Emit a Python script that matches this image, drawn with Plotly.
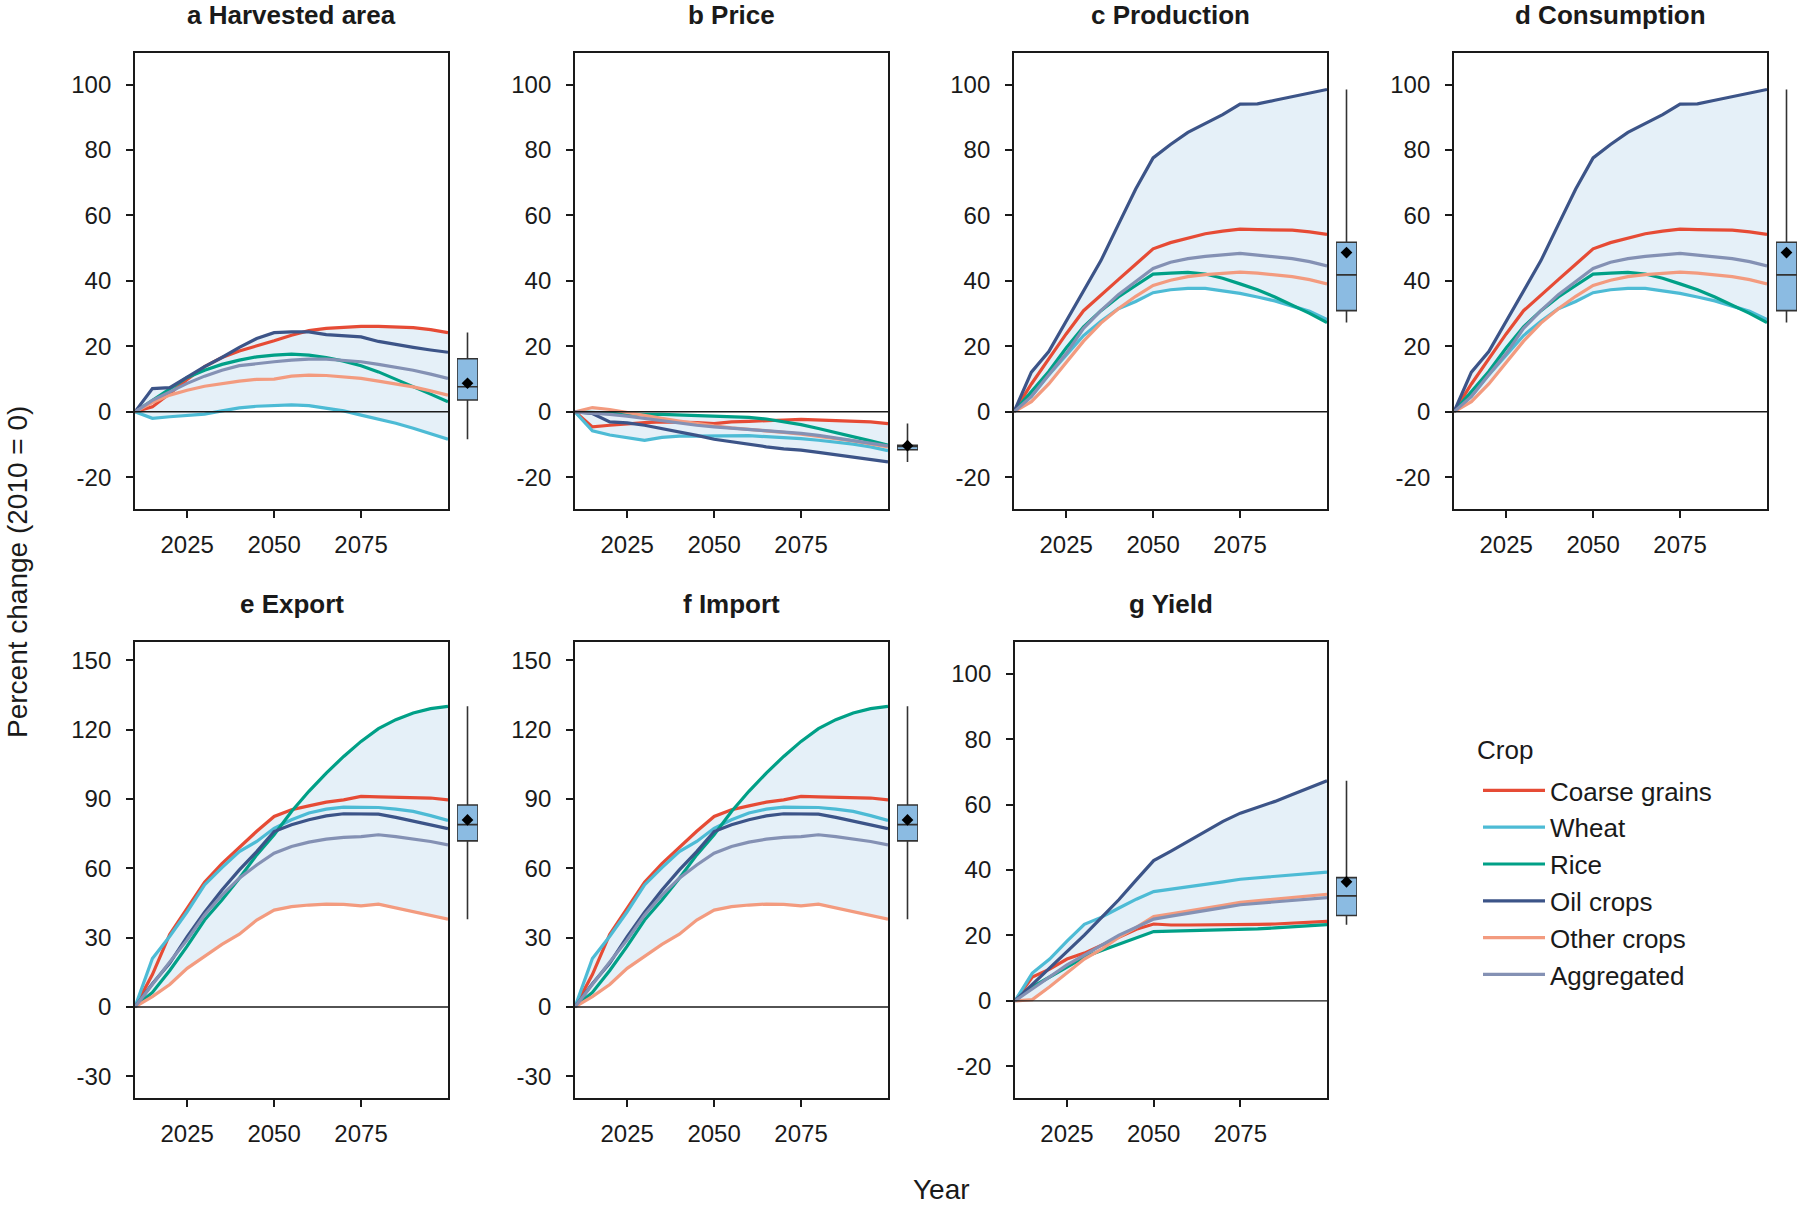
import numpy as np
import plotly.graph_objects as go

# ---------------- data ----------------
YEARS = list(range(2010, 2101, 5))
CROPS = ["Coarse grains", "Wheat", "Rice", "Oil crops", "Other crops", "Aggregated"]
COLORS = ["#E64B35", "#4DBBD5", "#00A087", "#3C5488", "#F39B7F", "#8491B4"]

harvested_area = {
    "Coarse grains": [0, 1.5, 5.6, 9.9, 13.8, 16.6, 18.6, 20.1, 21.7, 23.4, 24.8, 25.5, 25.9, 26.1, 26.1, 26.0, 25.7, 25.1, 24.2],
    "Wheat":         [0, -2.0, -1.5, -1.0, -0.7, 0.3, 1.2, 1.7, 2.0, 2.1, 1.9, 1.2, 0.3, -1.0, -2.2, -3.5, -5.0, -6.6, -8.4],
    "Rice":          [0, 3.5, 7.1, 10.5, 12.7, 14.5, 15.8, 16.8, 17.3, 17.6, 17.3, 16.6, 15.5, 14.1, 12.2, 10.0, 7.6, 5.4, 3.1],
    "Oil crops":     [0, 7.1, 7.4, 10.5, 13.8, 16.6, 19.7, 22.4, 24.2, 24.4, 24.4, 23.6, 23.2, 22.9, 21.5, 20.5, 19.7, 18.9, 18.2],
    "Other crops":   [0, 2.8, 5.1, 6.6, 7.8, 8.7, 9.4, 9.9, 10.0, 10.9, 11.2, 11.1, 10.7, 10.2, 9.4, 8.5, 7.6, 6.4, 5.1],
    "Aggregated":    [0, 3.5, 6.1, 8.7, 10.9, 12.7, 14.1, 14.8, 15.3, 15.8, 16.1, 16.1, 15.8, 15.3, 14.5, 13.6, 12.7, 11.5, 10.2],
}
price = {
    "Coarse grains": [0, -4.6, -4.1, -3.6, -3.3, -3.1, -3.1, -3.3, -3.6, -3.1, -2.9, -2.8, -2.5, -2.3, -2.5, -2.7, -2.8, -3.1, -3.6],
    "Wheat":         [0, -5.8, -7.1, -7.8, -8.7, -7.8, -7.4, -7.4, -7.3, -7.3, -7.3, -7.6, -7.8, -8.2, -8.7, -9.2, -9.9, -10.7, -11.9],
    "Rice":          [0, -0.2, -0.5, -0.8, -0.8, -0.8, -1.0, -1.2, -1.5, -1.5, -1.7, -2.2, -3.1, -3.9, -5.1, -6.3, -7.6, -8.9, -10.2],
    "Oil crops":     [0, -0.5, -3.1, -3.4, -4.1, -5.1, -6.1, -7.2, -8.4, -9.2, -9.9, -10.7, -11.3, -11.7, -12.4, -13.1, -13.8, -14.5, -15.3],
    "Other crops":   [0, 1.3, 0.7, -0.2, -1.3, -2.0, -2.8, -3.6, -4.3, -4.9, -5.3, -5.8, -6.3, -6.8, -7.4, -8.2, -8.9, -9.7, -10.7],
    "Aggregated":    [0, -0.3, -0.8, -1.3, -2.0, -2.8, -3.4, -4.1, -4.6, -5.0, -5.3, -5.6, -6.1, -6.6, -7.2, -8.0, -8.7, -9.5, -10.4],
}
production = {
    "Coarse grains": [0, 8.5, 16.2, 23.8, 30.9, 35.8, 40.4, 45.1, 49.8, 51.7, 53.1, 54.4, 55.2, 55.8, 55.7, 55.6, 55.5, 55.0, 54.2],
    "Wheat":         [0, 4.7, 11.3, 17.3, 23.3, 27.7, 31.5, 33.7, 36.4, 37.3, 37.7, 37.7, 36.9, 36.2, 35.1, 33.9, 32.3, 30.7, 28.2],
    "Rice":          [0, 6.3, 12.3, 19.5, 26.0, 30.9, 35.1, 38.6, 42.1, 42.4, 42.6, 42.1, 40.8, 39.1, 37.3, 35.1, 32.6, 30.1, 27.3],
    "Oil crops":     [0, 12.1, 18.4, 27.7, 36.9, 46.2, 57.2, 68.1, 77.6, 81.7, 85.4, 88.0, 90.8, 94.0, 94.1, 95.2, 96.3, 97.3, 98.5],
    "Other crops":   [0, 3.1, 8.5, 15.1, 21.6, 27.1, 31.5, 35.3, 38.6, 40.2, 41.3, 41.9, 42.3, 42.7, 42.4, 41.9, 41.3, 40.4, 39.1],
    "Aggregated":    [0, 4.7, 11.3, 17.8, 25.5, 30.9, 35.8, 39.7, 43.8, 45.7, 46.8, 47.5, 47.9, 48.4, 47.9, 47.3, 46.8, 45.9, 44.6],
}
consumption = {
    "Coarse grains": [0, 8.5, 16.2, 23.8, 30.9, 35.8, 40.4, 45.1, 49.8, 51.7, 53.1, 54.4, 55.2, 55.8, 55.7, 55.6, 55.5, 55.0, 54.2],
    "Wheat":         [0, 4.7, 11.3, 17.3, 23.3, 27.7, 31.5, 33.7, 36.4, 37.3, 37.7, 37.7, 36.9, 36.2, 35.1, 33.9, 32.3, 30.7, 28.2],
    "Rice":          [0, 6.3, 12.3, 19.5, 26.0, 30.9, 35.1, 38.6, 42.1, 42.4, 42.6, 42.1, 40.8, 39.1, 37.3, 35.1, 32.6, 30.1, 27.3],
    "Oil crops":     [0, 12.1, 18.4, 27.7, 36.9, 46.2, 57.2, 68.1, 77.6, 81.7, 85.4, 88.0, 90.8, 94.0, 94.1, 95.2, 96.3, 97.3, 98.5],
    "Other crops":   [0, 3.1, 8.5, 15.1, 21.6, 27.1, 31.5, 35.3, 38.6, 40.2, 41.3, 41.9, 42.3, 42.7, 42.4, 41.9, 41.3, 40.4, 39.1],
    "Aggregated":    [0, 4.7, 11.3, 17.8, 25.5, 30.9, 35.8, 39.7, 43.8, 45.7, 46.8, 47.5, 47.9, 48.4, 47.9, 47.3, 46.8, 45.9, 44.6],
}
export = {
    "Coarse grains": [0, 14.0, 31.5, 43.0, 54.0, 62.0, 69.0, 76.0, 82.4, 85.3, 87.0, 88.6, 89.6, 91.1, 90.9, 90.8, 90.8, 90.4, 89.6],
    "Wheat":         [0, 21.0, 30.6, 41.2, 52.8, 60.3, 67.2, 71.6, 77.3, 81.0, 83.9, 85.6, 86.5, 86.5, 86.3, 85.6, 84.6, 82.8, 80.7],
    "Rice":          [0, 6.3, 15.8, 26.3, 37.6, 46.3, 55.7, 65.8, 74.5, 84.6, 93.3, 101.2, 108.4, 114.9, 120.4, 124.3, 127.2, 129.1, 130.1],
    "Oil crops":     [0, 10.0, 19.0, 30.4, 41.0, 50.6, 59.3, 67.2, 75.9, 78.8, 81.0, 82.7, 83.6, 83.6, 83.4, 82.0, 80.5, 78.8, 77.1],
    "Other crops":   [0, 4.5, 9.7, 16.7, 21.9, 27.1, 31.5, 37.6, 41.9, 43.4, 44.1, 44.5, 44.4, 43.7, 44.5, 42.9, 41.2, 39.8, 38.0],
    "Aggregated":    [0, 10.0, 19.5, 29.0, 39.8, 48.4, 55.7, 61.4, 66.5, 69.4, 71.3, 72.6, 73.4, 73.7, 74.5, 73.7, 72.7, 71.6, 70.1],
}
imports = {
    "Coarse grains": [0, 14.0, 31.5, 43.0, 54.0, 62.0, 69.0, 76.0, 82.4, 85.3, 87.0, 88.6, 89.6, 91.1, 90.9, 90.8, 90.8, 90.4, 89.6],
    "Wheat":         [0, 21.0, 30.6, 41.2, 52.8, 60.3, 67.2, 71.6, 77.3, 81.0, 83.9, 85.6, 86.5, 86.5, 86.3, 85.6, 84.6, 82.8, 80.7],
    "Rice":          [0, 6.3, 15.8, 26.3, 37.6, 46.3, 55.7, 65.8, 74.5, 84.6, 93.3, 101.2, 108.4, 114.9, 120.4, 124.3, 127.2, 129.1, 130.1],
    "Oil crops":     [0, 10.0, 19.0, 30.4, 41.0, 50.6, 59.3, 67.2, 75.9, 78.8, 81.0, 82.7, 83.6, 83.6, 83.4, 82.0, 80.5, 78.8, 77.1],
    "Other crops":   [0, 4.5, 9.7, 16.7, 21.9, 27.1, 31.5, 37.6, 41.9, 43.4, 44.1, 44.5, 44.4, 43.7, 44.5, 42.9, 41.2, 39.8, 38.0],
    "Aggregated":    [0, 10.0, 19.5, 29.0, 39.8, 48.4, 55.7, 61.4, 66.5, 69.4, 71.3, 72.6, 73.4, 73.7, 74.5, 73.7, 72.7, 71.6, 70.1],
}
crop_yield = {
    "Coarse grains": [0, 7.3, 9.7, 12.8, 14.6, 17.1, 19.5, 21.9, 23.5, 23.2, 23.2, 23.2, 23.2, 23.3, 23.4, 23.5, 23.7, 24.0, 24.3],
    "Wheat":         [0, 8.5, 12.8, 18.3, 23.4, 25.6, 28.4, 31.1, 33.4, 34.1, 34.9, 35.6, 36.4, 37.2, 37.6, 38.1, 38.5, 39.0, 39.4],
    "Rice":          [0, 4.3, 7.3, 10.4, 13.4, 15.4, 17.4, 19.3, 21.2, 21.3, 21.4, 21.5, 21.6, 21.7, 22.0, 22.3, 22.6, 22.9, 23.3],
    "Oil crops":     [0, 5.0, 10.0, 15.0, 20.1, 25.5, 31.0, 37.0, 42.9, 45.8, 48.9, 51.9, 54.9, 57.4, 59.2, 61.0, 63.1, 65.1, 67.3],
    "Other crops":   [0, 0.4, 4.3, 8.5, 12.8, 15.8, 19.5, 22.5, 25.8, 26.6, 27.4, 28.3, 29.2, 30.1, 30.6, 31.1, 31.6, 32.1, 32.6],
    "Aggregated":    [0, 3.7, 7.3, 11.0, 14.0, 17.1, 20.1, 22.5, 25.0, 25.9, 26.7, 27.6, 28.5, 29.4, 29.8, 30.3, 30.7, 31.2, 31.6],
}

PANEL_TITLES = ["a Harvested area", "b Price", "c Production", "d Consumption",
                "e Export", "f Import", "g Yield"]
PANEL_DATA = [harvested_area, price, production, consumption, export, imports, crop_yield]
YTICKS_SMALL = [-20, 0, 20, 40, 60, 80, 100]
YTICKS_LARGE = [-30, 0, 30, 60, 90, 120, 150]
XTICKS = [2025, 2050, 2075]

# ---------------- layout geometry (pixels) ----------------
W, H = 1800, 1205
FONT = "Liberation Sans, Arial, sans-serif"
INK = "#1a1a1a"
BAND = "#E5F0F8"
BOXFILL = "#8BBBE2"
ROWS_PX = [(52.5, 509.0), (641.8, 1098.0)]
PANEL_X_PX = [(135, 448), (575, 888), (1014, 1327), (1454, 1767),
              (135, 448), (575, 888), (1015, 1327)]
PANEL_ROW = [0, 0, 0, 0, 1, 1, 1]
PANEL_YRANGE = [[-29.7, 109.8]] * 4 + [[-39.4, 158.0]] * 2 + [[-29.7, 109.8]]
PANEL_YTICKS = [YTICKS_SMALL] * 4 + [YTICKS_LARGE] * 2 + [YTICKS_SMALL]


def fx(px):
    return px / W


def fy(py):
    return 1 - py / H


def ax_name(letter, n):
    return letter if n == 1 else f"{letter}{n}"


def ax_key(letter, n):
    return f"{letter}axis" if n == 1 else f"{letter}axis{n}"


fig = go.Figure()
layout = dict()
annotations = []
shapes = []

for i, (title, data) in enumerate(zip(PANEL_TITLES, PANEL_DATA)):
    na, nb, ny = 2 * i + 1, 2 * i + 2, i + 1
    xa, xb, ya = ax_name("x", na), ax_name("x", nb), ax_name("y", ny)
    x0, x1 = PANEL_X_PX[i]
    r0, r1 = ROWS_PX[PANEL_ROW[i]]

    arr = np.array([data[c] for c in CROPS], dtype=float)
    lo = arr.min(axis=0)
    hi = arr.max(axis=0)

    # shaded range band
    fig.add_trace(go.Scatter(x=YEARS, y=hi, mode="lines", line=dict(width=0, color=BAND),
                             xaxis=xa, yaxis=ya, showlegend=False, hoverinfo="skip"))
    fig.add_trace(go.Scatter(x=YEARS, y=lo, mode="lines", line=dict(width=0, color=BAND),
                             fill="tonexty", fillcolor=BAND,
                             xaxis=xa, yaxis=ya, showlegend=False, hoverinfo="skip"))
    # crop lines
    for c, col in zip(CROPS, COLORS):
        fig.add_trace(go.Scatter(x=YEARS, y=data[c], mode="lines", name=c,
                                 line=dict(color=col, width=3.2),
                                 legendgroup=c, showlegend=(i == 0),
                                 xaxis=xa, yaxis=ya))

    # box plot of end-of-century values across crops
    end = arr[:, -1]
    q1, med, q3 = np.percentile(end, [25, 50, 75])
    fig.add_trace(go.Box(x=[0], q1=[q1], median=[med], q3=[q3],
                         lowerfence=[end.min()], upperfence=[end.max()],
                         width=1, whiskerwidth=0, fillcolor=BOXFILL,
                         line=dict(color="#333333", width=1.6),
                         xaxis=xb, yaxis=ya, showlegend=False, hoverinfo="skip"))
    fig.add_trace(go.Scatter(x=[0], y=[end.mean()], mode="markers",
                             marker=dict(symbol="diamond", size=9, color="black"),
                             xaxis=xb, yaxis=ya, showlegend=False, hoverinfo="skip"))

    layout[ax_key("x", na)] = dict(
        domain=[fx(x0), fx(x1)], anchor=ya, range=[2010, 2100],
        tickvals=XTICKS, ticktext=[str(t) for t in XTICKS],
        ticks="outside", ticklen=7, tickwidth=1.5, tickcolor=INK,
        showline=True, linecolor=INK, linewidth=1.8, mirror=True,
        showgrid=False, zeroline=False, ticklabelstandoff=6,
        tickfont=dict(size=24, color=INK, family=FONT))
    layout[ax_key("x", nb)] = dict(
        domain=[fx(x1 + 9), fx(x1 + 30)], anchor=ya, range=[-0.5, 0.5],
        visible=False, showgrid=False, zeroline=False)
    layout[ax_key("y", ny)] = dict(
        domain=[fy(r1), fy(r0)], anchor=xa, range=PANEL_YRANGE[i],
        tickvals=PANEL_YTICKS[i], ticktext=[str(t) for t in PANEL_YTICKS[i]],
        ticks="outside", ticklen=7, tickwidth=1.5, tickcolor=INK,
        showline=True, linecolor=INK, linewidth=1.8, mirror=True,
        showgrid=False, zeroline=False, ticklabelstandoff=10,
        tickfont=dict(size=24, color=INK, family=FONT))

    # zero reference line
    shapes.append(dict(type="line", xref=f"{xa} domain", yref=ya, x0=0, x1=1, y0=0, y1=0,
                       line=dict(color=INK, width=1.4), layer="above"))

    # panel title
    annotations.append(dict(text=f"<b>{title}</b>", xref="paper", yref="paper",
                            x=fx((x0 + x1) / 2), y=fy(r0 - 37.5), xanchor="center", yanchor="middle",
                            showarrow=False, font=dict(size=26, color=INK, family=FONT)))

annotations.append(dict(text="Percent change (2010 = 0)", xref="paper", yref="paper",
                        x=fx(17), y=fy(572), textangle=-90, xanchor="center", yanchor="middle",
                        showarrow=False, font=dict(size=28, color=INK, family=FONT)))
annotations.append(dict(text="Year", xref="paper", yref="paper",
                        x=fx(941), y=fy(1189), xanchor="center", yanchor="middle",
                        showarrow=False, font=dict(size=28, color=INK, family=FONT)))
annotations.append(dict(text="Crop", xref="paper", yref="paper",
                        x=fx(1475), y=fy(750), xanchor="left", yanchor="middle",
                        showarrow=False, font=dict(size=26, color=INK, family=FONT)))

fig.update_layout(
    width=W, height=H,
    margin=dict(l=0, r=0, t=0, b=0),
    paper_bgcolor="white", plot_bgcolor="white",
    font=dict(family=FONT, color=INK),
    annotations=annotations, shapes=shapes,
    legend=dict(x=fx(1478), y=fy(767), xanchor="left", yanchor="top",
                font=dict(size=26, family=FONT, color=INK),
                traceorder="grouped", tracegroupgap=0, itemwidth=62,
                bgcolor="rgba(0,0,0,0)"),
    **layout,
)

fig.write_html("out.html", config={"displayModeBar": False},
               post_script="document.body.style.margin='0';")
